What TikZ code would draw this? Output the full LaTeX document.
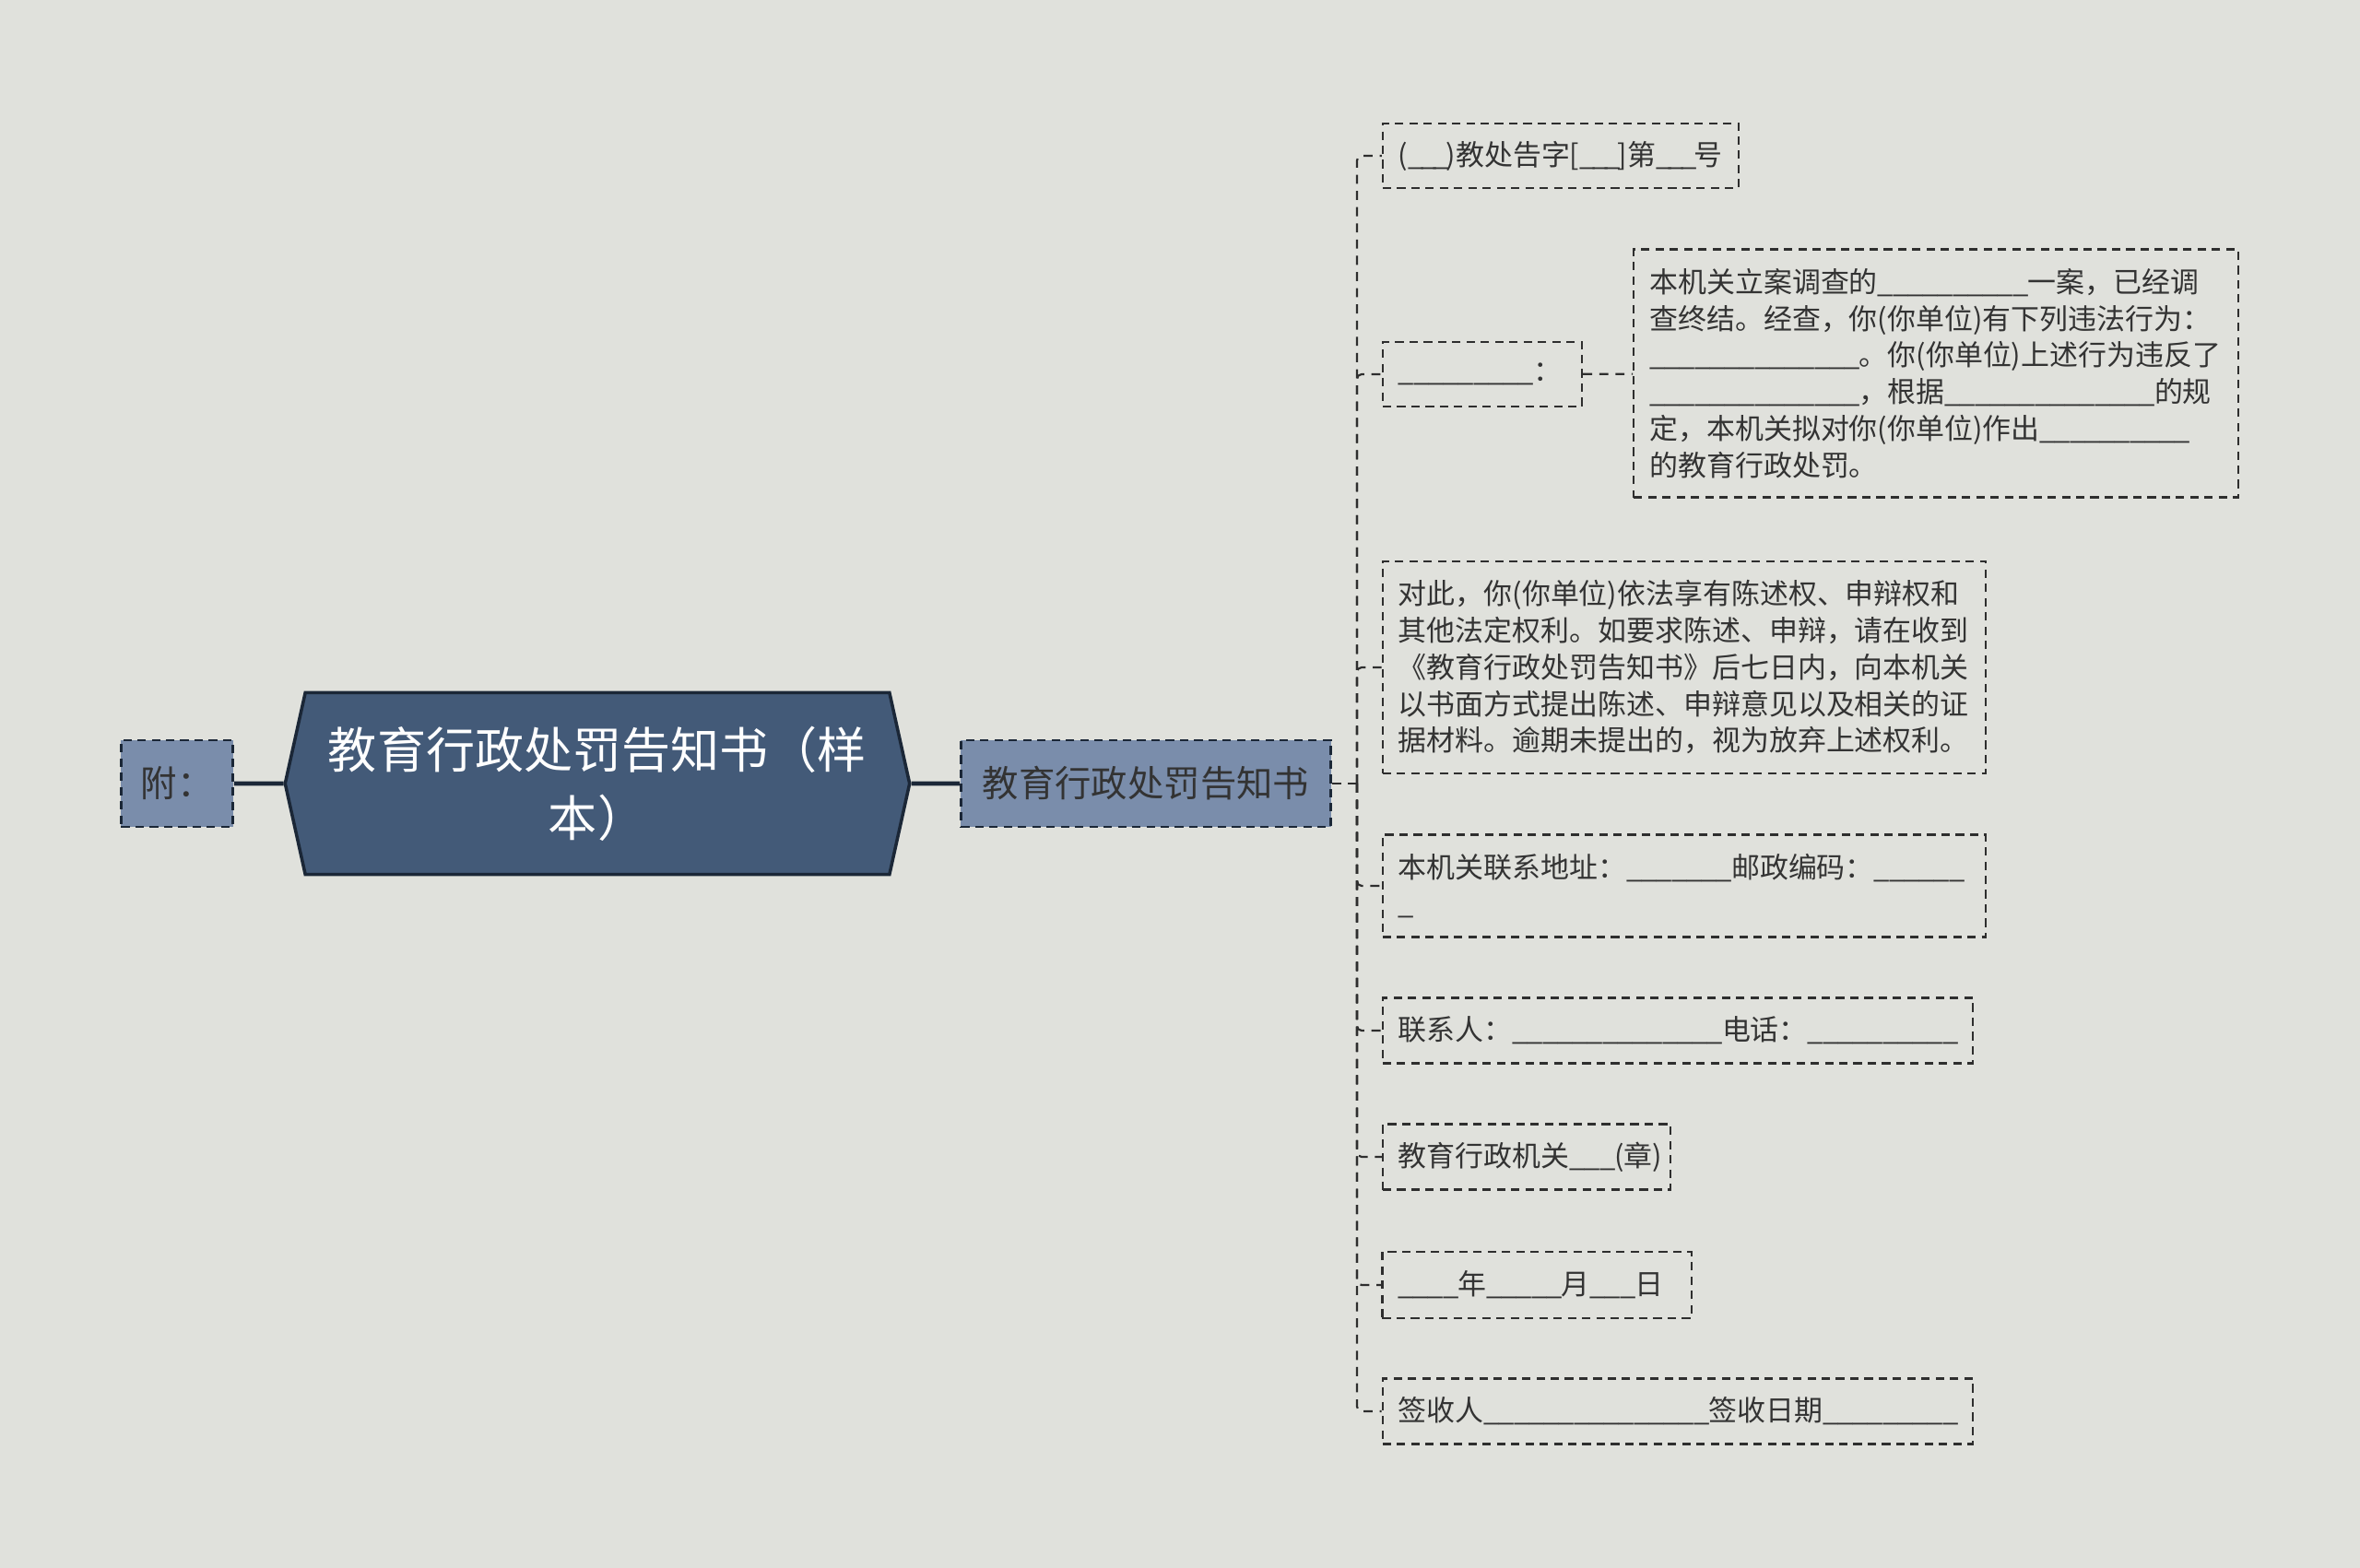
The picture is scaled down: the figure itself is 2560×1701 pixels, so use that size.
\documentclass[tikz,border=0pt]{standalone}
\usepackage{fontspec}
\setmainfont{Noto Sans CJK SC}
\usepackage{tikz}
\usetikzlibrary{shapes.symbols, positioning}
\definecolor{bgcol}{HTML}{E0E1DC}
\definecolor{topicfill}{HTML}{435A78}
\definecolor{navyline}{HTML}{1B2737}
\definecolor{branchfill}{HTML}{7A8DAB}
\definecolor{leafline}{HTML}{2E2E2E}
\definecolor{textgrey}{HTML}{333333}
\newcommand{\fillin}[2][-0.3pt]{\foreach\k in {1,...,#2}{\_\kern#1}}

\begin{document}
\begin{tikzpicture}[x=0.01cm, y=-0.01cm,
  topicbox/.style={signal, signal to=east and west, signal pointer angle=155, draw=navyline, line width=1pt, fill=topicfill, text=white, font=\fontsize{15.1}{21}\selectfont, align=center, minimum width=6.77cm, minimum height=1.97cm, inner sep=0pt},
  branchbox/.style={draw=navyline, line width=0.7pt, dash pattern=on 2.6pt off 1.8pt, fill=branchfill, text=textgrey, font=\fontsize{11.2}{14}\selectfont, minimum height=0.94cm, inner sep=0pt},
  leafbox/.style={draw=leafline, line width=0.62pt, dash pattern=on 2.6pt off 1.8pt, text=textgrey, font=\fontsize{8.8}{11.3}\selectfont, align=left, inner xsep=0.17cm, inner ysep=0pt},
  link/.style={draw=leafline, line width=0.62pt, dash pattern=on 2.8pt off 2.2pt},
  solidlink/.style={draw=navyline, line width=1.3pt}
]

% Background
\fill[bgcol] (0,0) rectangle (2560,1701);

% Centre and first level
\node[topicbox] (main) at (648,850) {教育行政处罚告知书（样\\本）};
\node[branchbox, minimum width=1.21cm] (annex) at (192,850) {附：};
\node[branchbox, minimum width=4.01cm] (notice) at (1243,850) {教育行政处罚告知书};

% Leaves
\node[leafbox, text width=3.52cm, minimum height=0.70cm] (docno) at (1693,169) {(\fillin[-1pt]{3})教处告字[\fillin[-1pt]{3}]第\fillin[-1pt]{3}号};
\node[leafbox, text width=1.82cm, minimum height=0.70cm] (blank) at (1608,406) {\fillin{9}：};
\node[leafbox, text width=6.21cm, minimum height=2.69cm] (detail) at (2100,405) {本机关立案调查的\fillin{10}一案，已经调\\
查终结。经查，你(你单位)有下列违法行为：\\
\fillin{14}。你(你单位)上述行为违反了\\
\fillin{14}，根据\fillin{14}的规\\
定，本机关拟对你(你单位)作出\fillin{10}\\
的教育行政处罚。};
\node[leafbox, text width=6.20cm, minimum height=2.30cm] (reply) at (1827,724) {对此，你(你单位)依法享有陈述权、申辩权和\\
其他法定权利。如要求陈述、申辩，请在收到\\
《教育行政处罚告知书》后七日内，向本机关\\
以书面方式提出陈述、申辩意见以及相关的证\\
据材料。逾期未提出的，视为放弃上述权利。};
\node[leafbox, text width=6.20cm, minimum height=1.11cm] (addr) at (1827,961) {本机关联系地址：\fillin{7}邮政编码：\fillin{6}\\
\_};
\node[leafbox, text width=6.06cm, minimum height=0.71cm] (contact) at (1820,1118) {联系人：\fillin{14}电话：\fillin{10}};
\node[leafbox, text width=2.78cm, minimum height=0.71cm] (seal) at (1656,1255) {教育行政机关\fillin{3}(章)};
\node[leafbox, text width=3.01cm, minimum height=0.72cm] (date) at (1667,1394) {\fillin{4}年\fillin{5}月\fillin{3}日};
\node[leafbox, text width=6.06cm, minimum height=0.71cm] (sign) at (1820,1531) {签收人\fillin{15}签收日期\fillin{9}};

% Connectors
\draw[solidlink] (annex) -- (main);
\draw[solidlink] (main) -- (notice);
\draw[link] (notice.east) -- (1472,850) coordinate (trunk);
\foreach \leaf in {docno,blank,reply,addr,contact,seal,date,sign}
  \draw[link, rounded corners=0.05cm] (trunk) |- (\leaf.west);
\draw[link] (blank) -- (detail);

\end{tikzpicture}
\end{document}
